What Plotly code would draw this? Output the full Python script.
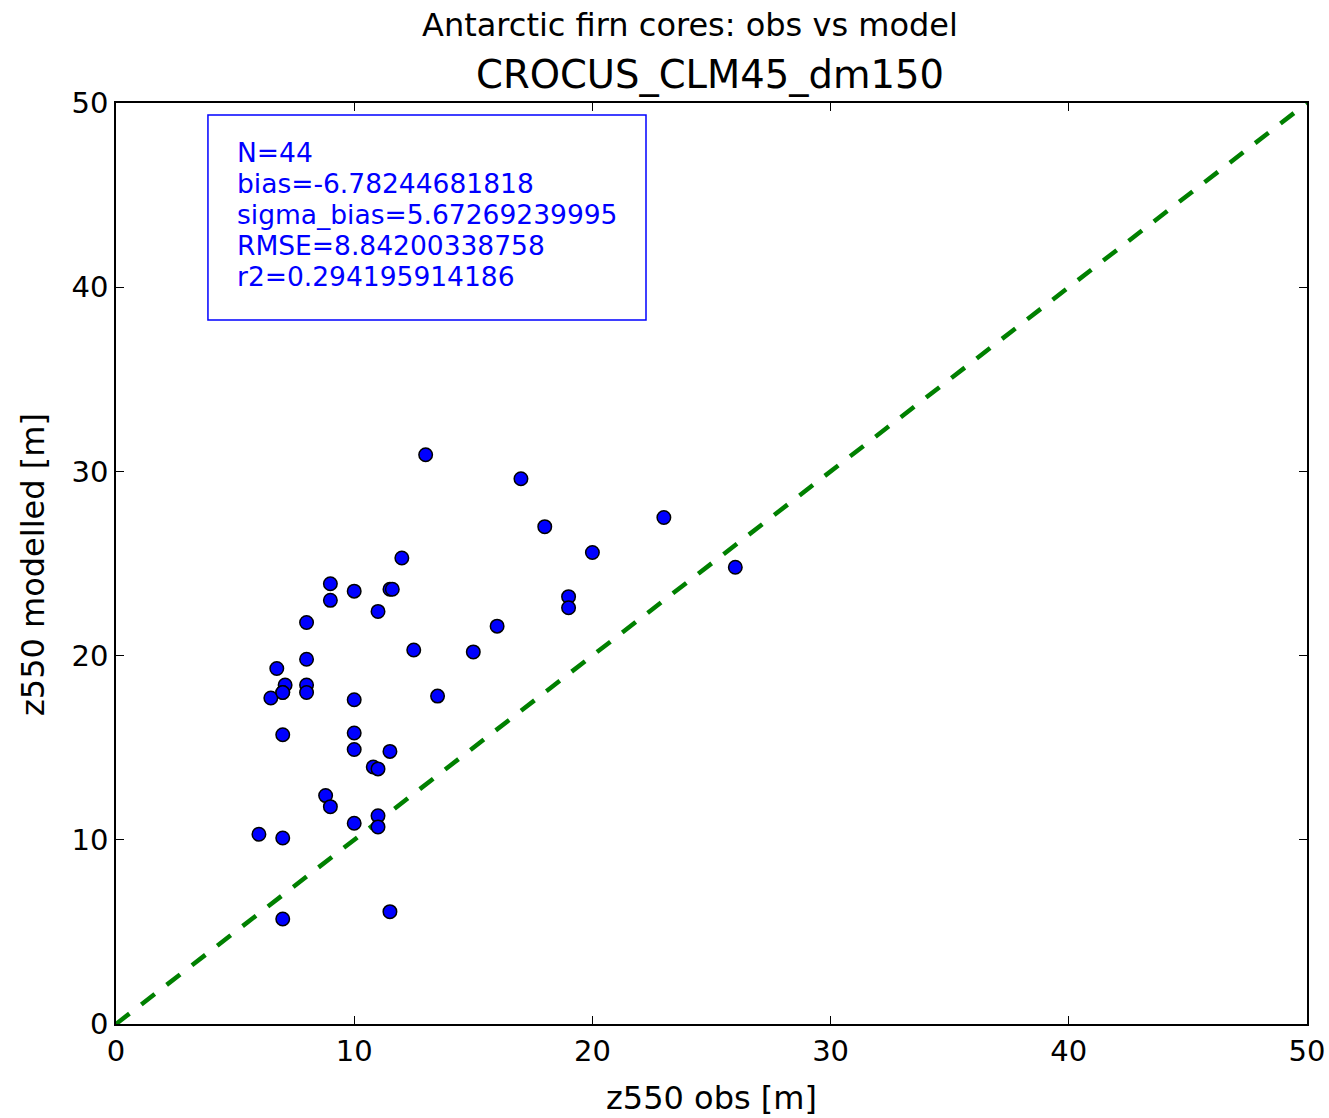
import plotly.graph_objects as go

# observed vs modelled z550 depth [m]
obs = [13, 17, 18, 23, 20, 26, 12, 9, 9, 10, 11.5, 11.6, 11, 19, 19, 8, 16,
       12.5, 15, 8, 6.75, 7.1, 7.0, 8, 8, 6.5, 13.5, 10, 7, 10, 10, 11.5,
       10.8, 11, 8.8, 9, 6, 7, 10, 11, 11, 7, 11.5, 7.0]
model = [30.9, 29.6, 27.0, 27.5, 25.6, 24.8, 25.3, 23.9, 23.0, 23.5, 23.6, 23.6,
         22.4, 23.2, 22.6, 21.8, 21.6, 20.3, 20.2, 19.8, 19.3, 18.4, 18.0, 18.4,
         18.0, 17.7, 17.8, 17.6, 15.7, 15.8, 14.9, 14.8, 13.95, 13.85, 12.4, 11.8,
         10.3, 10.1, 10.9, 11.3, 10.7, 5.7, 6.1, 18.0]
one_to_one = [0, 50]
tick_vals = [0, 10, 20, 30, 40, 50]
stats_lines = ["N=44", "bias=-6.78244681818", "sigma_bias=5.67269239995",
               "RMSE=8.84200338758", "r2=0.294195914186"]

FONT = "DejaVu Sans"
fig = go.Figure()
fig.add_trace(go.Scatter(x=one_to_one, y=one_to_one, mode="lines",
                         line=dict(color="#008000", width=4.5, dash="17px,15px"),
                         hoverinfo="skip", showlegend=False))
fig.add_trace(go.Scatter(x=obs, y=model, mode="markers",
                         marker=dict(color="#0000ff", size=13.5,
                                     line=dict(color="black", width=1.5)),
                         showlegend=False))

W, H = 1329, 1118
L, R, T, B = 116, 22, 103, 94
pw, ph = W - L - R, H - T - B

def px(x):
    return (x - L) / pw

def py(y):
    return (H - B - y) / ph

axis_common = dict(range=[0, 50], tickvals=tick_vals, ticks="inside", ticklen=8,
                   tickwidth=1, tickcolor="black", showline=True, linecolor="black",
                   linewidth=1.5, mirror="ticks", showgrid=False, zeroline=False,
                   automargin=False,
                   tickfont=dict(family=FONT, size=29, color="black"))
fig.update_xaxes(**axis_common)
fig.update_yaxes(**axis_common)

# stats box
fig.add_shape(type="rect", xref="x", yref="y", x0=3.86, x1=22.25, y0=38.22, y1=49.35,
              line=dict(color="#0000ff", width=1.5), fillcolor="white", layer="above")
line_y = [47.31, 45.63, 43.95, 42.26, 40.58]
for txt, yy in zip(stats_lines, line_y):
    fig.add_annotation(x=4.98, y=yy, xref="x", yref="y", text=txt, showarrow=False,
                       xanchor="left", yanchor="middle",
                       font=dict(family=FONT, size=26.5, color="#0000ff"))

fig.add_annotation(x=px(690), y=py(25), xref="paper", yref="paper",
                   text="Antarctic firn cores: obs vs model", showarrow=False,
                   xanchor="center", yanchor="middle",
                   font=dict(family=FONT, size=32, color="black"))
fig.add_annotation(x=px(709.5), y=py(75), xref="paper", yref="paper",
                   text="CROCUS_CLM45_dm150", showarrow=False,
                   xanchor="center", yanchor="middle",
                   font=dict(family=FONT, size=38.5, color="black"))
fig.add_annotation(x=px(711), y=py(1098), xref="paper", yref="paper",
                   text="z550 obs [m]", showarrow=False,
                   xanchor="center", yanchor="middle",
                   font=dict(family=FONT, size=32, color="black"))
fig.add_annotation(x=px(33), y=py(565), xref="paper", yref="paper",
                   text="z550 modelled [m]", showarrow=False, textangle=-90,
                   xanchor="center", yanchor="middle",
                   font=dict(family=FONT, size=32, color="black"))

fig.update_layout(width=W, height=H, margin=dict(l=L, r=R, t=T, b=B),
                  plot_bgcolor="white", paper_bgcolor="white",
                  font=dict(family=FONT))
fig.write_html("out.html")
